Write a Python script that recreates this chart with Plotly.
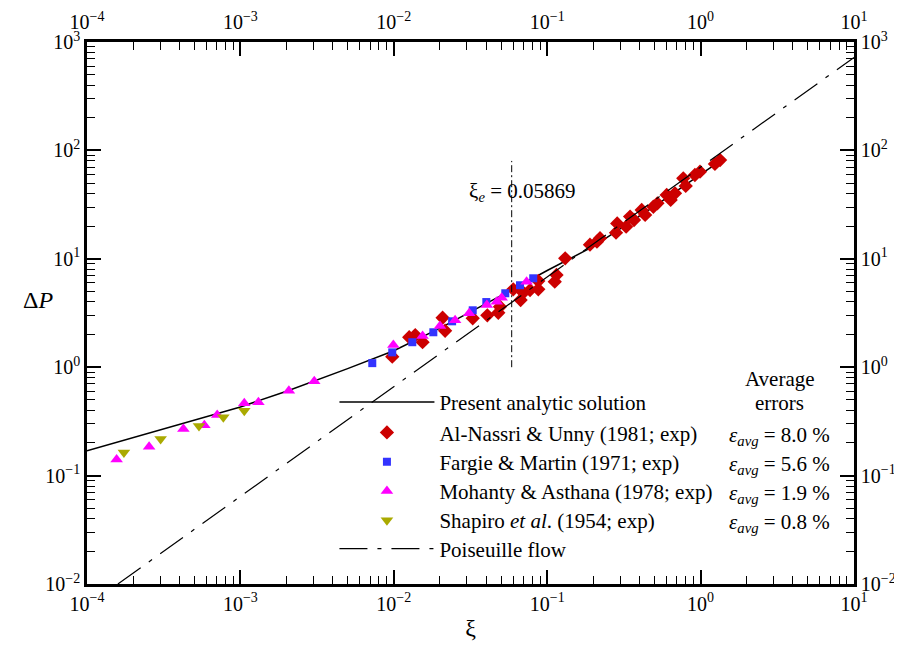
import plotly.graph_objects as go

# ---------------- data ----------------
analytic_xi = [1e-4, 2e-4, 5e-4, 1e-3, 2e-3, 5e-3, 1e-2, 2e-2, 5e-2, 0.1, 0.2, 0.5, 1.0, 1.4]
analytic_dp = [0.169, 0.224, 0.324, 0.43, 0.60, 0.97, 1.42, 2.29, 4.58, 7.8, 13.0, 30.5, 60.0, 83.0]

poiseuille_xi = [1.59e-4, 10.0]
poiseuille_dp = [0.01, 720.0]

xi_e = 0.05869
xi_e_dp = [1.0, 80.0]

alnassri_xi = [9.77e-3, 0.0126, 0.0138, 0.0154, 0.0208, 0.0216, 0.0327, 0.0407, 0.0480, 0.0492,
               0.0601, 0.0671, 0.0698, 0.0773, 0.0875, 0.0875, 0.112, 0.115, 0.131, 0.190,
               0.211, 0.221, 0.281, 0.286, 0.327, 0.347, 0.368, 0.413, 0.435, 0.492,
               0.523, 0.601, 0.638, 0.681, 0.771, 0.800, 0.918, 0.991, 1.24, 1.34]
alnassri_dp = [1.25, 1.89, 1.98, 1.70, 2.86, 2.17, 2.83, 3.01, 3.18, 3.61,
               5.23, 4.17, 4.87, 5.15, 5.23, 6.24, 6.15, 7.09, 10.1, 13.5,
               14.4, 15.5, 17.4, 21.2, 19.8, 24.5, 22.8, 28.2, 25.4, 30.2,
               32.5, 38.8, 34.9, 40.2, 55.3, 47.0, 59.3, 63.6, 75.0, 81.5]

fargie_xi = [7.24e-3, 9.77e-3, 0.0132, 0.0181, 0.0240, 0.0327, 0.0401, 0.0533, 0.0665, 0.0811]
fargie_dp = [1.09, 1.37, 1.70, 2.10, 2.65, 3.35, 3.99, 4.81, 5.70, 6.61]

mohanty_xi = [1.56e-4, 2.54e-4, 4.25e-4, 5.82e-4, 7.06e-4, 1.06e-3, 1.31e-3, 2.07e-3, 3.03e-3,
              9.93e-3, 0.0154, 0.0200, 0.0251, 0.0310, 0.0404, 0.0469, 0.0505, 0.0734]
mohanty_dp = [0.141, 0.185, 0.269, 0.291, 0.362, 0.464, 0.474, 0.607, 0.741,
              1.60, 1.94, 2.40, 2.71, 3.14, 3.75, 4.02, 4.38, 6.15]

shapiro_xi = [1.74e-4, 3.02e-4, 5.37e-4, 7.74e-4, 1.06e-3]
shapiro_dp = [0.163, 0.218, 0.287, 0.345, 0.397]

errors = ["8.0", "5.6", "1.9", "0.8"]

x_tickvals = [1e-4, 1e-3, 1e-2, 1e-1, 1e0, 1e1]
x_ticktext = ["10<sup>−4</sup>", "10<sup>−3</sup>", "10<sup>−2</sup>", "10<sup>−1</sup>",
              "10<sup>0</sup>", "10<sup>1</sup>"]
y_tickvals = [1e-2, 1e-1, 1e0, 1e1, 1e2, 1e3]
y_ticktext = ["10<sup>−2</sup>", "10<sup>−1</sup>", "10<sup>0</sup>", "10<sup>1</sup>",
              "10<sup>2</sup>", "10<sup>3</sup>"]

FONT = "Liberation Serif"

# legend rows (paper y of each row centre) and left edge
legend_x = 0.3226
legend_rows = [0.3350, 0.2790, 0.2250, 0.1710, 0.1170, 0.0646]
error_rows = [0.2749, 0.2214, 0.1679, 0.1144]

fig = go.Figure()

fig.add_trace(go.Scatter(x=analytic_xi, y=analytic_dp, mode="lines",
                         line=dict(color="black", width=1.5),
                         name="Present analytic solution", legend="legend"))
fig.add_trace(go.Scatter(x=alnassri_xi, y=alnassri_dp, mode="markers",
                         marker=dict(symbol="diamond", size=11, color="#cc0000"),
                         name="Al-Nassri &amp; Unny (1981; exp)", legend="legend2"))
fig.add_trace(go.Scatter(x=fargie_xi, y=fargie_dp, mode="markers",
                         marker=dict(symbol="square", size=8, color="#3333ff"),
                         name="Fargie &amp; Martin (1971; exp)", legend="legend3"))
fig.add_trace(go.Scatter(x=mohanty_xi, y=mohanty_dp, mode="markers",
                         marker=dict(symbol="triangle-up", size=11, color="#ff00ff"),
                         name="Mohanty &amp; Asthana (1978; exp)", legend="legend4"))
fig.add_trace(go.Scatter(x=shapiro_xi, y=shapiro_dp, mode="markers",
                         marker=dict(symbol="triangle-down", size=11, color="#aaaa00"),
                         name="Shapiro <i>et al</i>. (1954; exp)", legend="legend5"))
fig.add_trace(go.Scatter(x=poiseuille_xi, y=poiseuille_dp, mode="lines",
                         line=dict(color="black", width=1.2, dash="28px,10px,4px,10px"),
                         name="Poiseuille flow", legend="legend6"))
fig.add_trace(go.Scatter(x=[xi_e, xi_e], y=xi_e_dp, mode="lines",
                         line=dict(color="black", width=1, dash="7px,3px,2px,3px"),
                         showlegend=False, hoverinfo="skip"))
# carrier trace so the top and right axes are drawn
fig.add_trace(go.Scatter(x=analytic_xi, y=analytic_dp, mode="lines", xaxis="x2", yaxis="y2",
                         line=dict(color="rgba(0,0,0,0)", width=0),
                         showlegend=False, hoverinfo="skip"))

axis_common = dict(type="log", showgrid=False, zeroline=False, showline=True,
                   linecolor="black", linewidth=2.5, ticks="inside", ticklen=14,
                   tickwidth=2, tickcolor="black", automargin=False,
                   tickfont=dict(family=FONT, size=20, color="black"),
                   minor=dict(ticks="inside", ticklen=8, tickwidth=1, tickcolor="black",
                              dtick="D1", showgrid=False))

legend_common = dict(xanchor="left", yanchor="middle", bgcolor="rgba(0,0,0,0)",
                     borderwidth=0, font=dict(family=FONT, size=21, color="black"),
                     itemwidth=95)

layout_legends = {}
names = ["legend", "legend2", "legend3", "legend4", "legend5", "legend6"]
for nm, yy in zip(names, legend_rows):
    layout_legends[nm] = dict(x=legend_x, y=yy, **legend_common)

fig.update_layout(
    width=894, height=641,
    margin=dict(l=79, r=48, t=34, b=65, autoexpand=False),
    paper_bgcolor="white", plot_bgcolor="white",
    font=dict(family=FONT, size=21, color="black"),
    xaxis=dict(range=[-4, 1], tickmode="array", tickvals=x_tickvals, ticktext=x_ticktext,
               title=dict(text="ξ", font=dict(family=FONT, size=24), standoff=6),
               **axis_common),
    xaxis2=dict(range=[-4, 1], tickmode="array", tickvals=x_tickvals, ticktext=x_ticktext,
                overlaying="x", side="top", anchor="y", ticklabelstandoff=2, **axis_common),
    yaxis=dict(range=[-2, 3], tickmode="array", tickvals=y_tickvals, ticktext=y_ticktext,
               **axis_common),
    yaxis2=dict(range=[-2, 3], tickmode="array", tickvals=y_tickvals, ticktext=y_ticktext,
                overlaying="y", side="right", anchor="x", **axis_common),
    showlegend=True,
    **layout_legends,
)

ann = []
ann.append(dict(text="Δ<i>P</i>", x=-0.086, y=0.524, xref="paper", yref="paper",
                xanchor="left", yanchor="middle",
                showarrow=False, font=dict(family=FONT, size=24)))
ann.append(dict(text="ξ<sub><i>e</i></sub> = 0.05869", x=0.5675, y=0.7235,
                xref="paper", yref="paper", showarrow=False, xanchor="center", yanchor="middle",
                font=dict(family=FONT, size=21)))
ann.append(dict(text="Average", x=0.9035, y=0.3782, xref="paper", yref="paper",
                showarrow=False, xanchor="center", yanchor="middle",
                font=dict(family=FONT, size=21)))
ann.append(dict(text="errors", x=0.9035, y=0.3339, xref="paper", yref="paper",
                showarrow=False, xanchor="center", yanchor="middle",
                font=dict(family=FONT, size=21)))
for e, yy in zip(errors, error_rows):
    ann.append(dict(text="<i>ε</i><sub><i>avg</i></sub> = " + e + " %", x=0.9713, y=yy - 0.002,
                    xref="paper", yref="paper", xanchor="right", yanchor="middle",
                    showarrow=False, font=dict(family=FONT, size=21)))
fig.update_layout(annotations=ann)

fig.write_html("out.html")
